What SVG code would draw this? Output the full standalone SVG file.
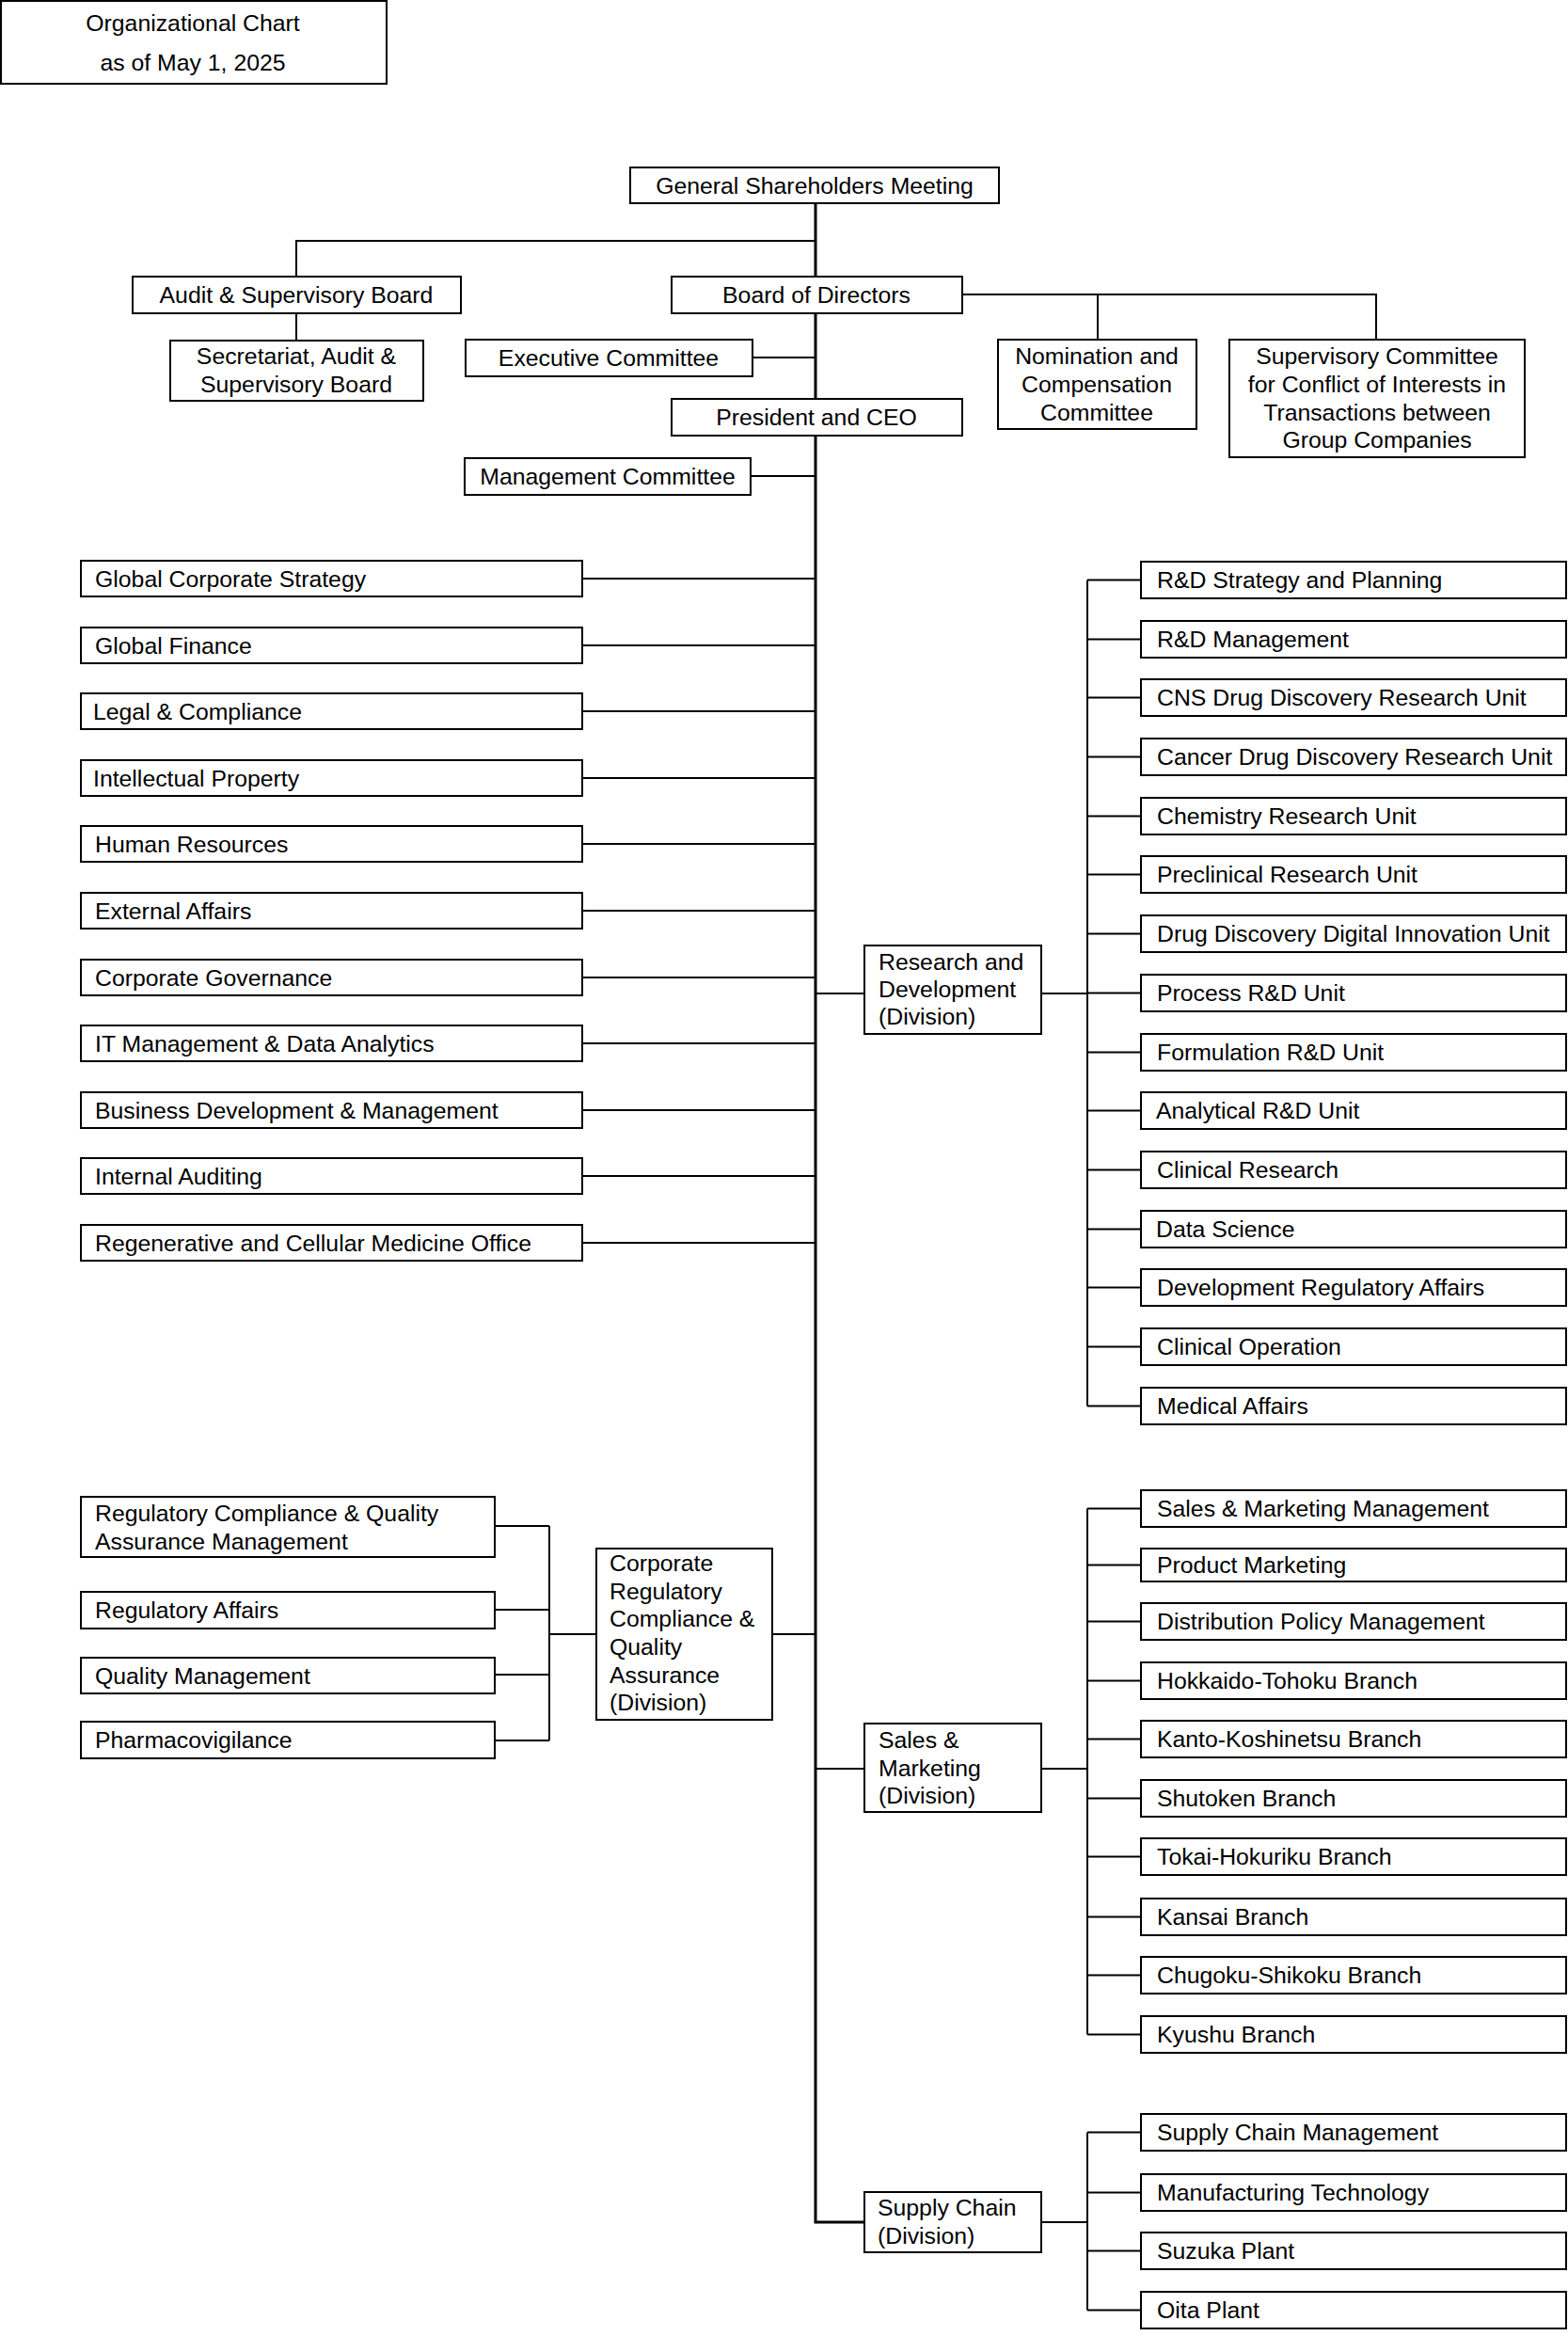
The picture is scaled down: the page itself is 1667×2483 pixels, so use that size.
<svg xmlns="http://www.w3.org/2000/svg" width="1667" height="2483" viewBox="0 0 1667 2483">
<style>
.b{fill:#fff;stroke:#000;stroke-width:2}
.t{font-family:"Liberation Sans",Arial,sans-serif;font-size:24.8px;fill:#000}
.c{text-anchor:middle}
.ln{stroke:#000;stroke-width:2;fill:none}
.mn{stroke:#000;stroke-width:3;fill:none}
</style>
<rect width="1667" height="2483" fill="#fff"/>
<g id="connectors">
<path class="mn" d="M867,216 V2362 H919"/>
<path class="ln" d="M867,256 H315 V294 M315,333 V362"/>
<path class="ln" d="M1023,313 H1463 V361 M1167,313 V361"/>
<path class="ln" d="M800,380 H867 M798,506 H867"/>
<path class="ln" d="M619,615 H867 M619,686 H867 M619,756 H867 M619,827 H867 M619,897 H867 M619,968 H867 M619,1039 H867 M619,1109 H867 M619,1180 H867 M619,1250 H867 M619,1321 H867"/>
<path class="ln" d="M867,1056 H919 M1107,1056 H1156 M1156,616.5 V1494.5"/>
<path class="ln" d="M1156,616.5 H1213 M1156,679.5 H1213 M1156,741.5 H1213 M1156,804.5 H1213 M1156,867.5 H1213 M1156,929.5 H1213 M1156,992.5 H1213 M1156,1055.5 H1213 M1156,1118.5 H1213 M1156,1180.5 H1213 M1156,1243.5 H1213 M1156,1306.5 H1213 M1156,1368.5 H1213 M1156,1431.5 H1213 M1156,1494.5 H1213"/>
<path class="ln" d="M526,1622 H584 M526,1711 H584 M526,1780 H584 M526,1850 H584 M584,1622 V1850 M584,1737 H634 M821,1737 H867"/>
<path class="ln" d="M867,1880 H919 M1107,1880 H1156 M1156,1603.5 V2162.5"/>
<path class="ln" d="M1156,1603.5 H1213 M1156,1663.5 H1213 M1156,1723.5 H1213 M1156,1786.5 H1213 M1156,1848.5 H1213 M1156,1911.5 H1213 M1156,1973.5 H1213 M1156,2037.5 H1213 M1156,2099.5 H1213 M1156,2162.5 H1213"/>
<path class="ln" d="M1107,2362 H1156 M1156,2266.5 V2455.5 M1156,2266.5 H1213 M1156,2330.5 H1213 M1156,2392.5 H1213 M1156,2455.5 H1213"/>
</g>
<g id="title"><rect class="b" x="1" y="1" width="410" height="88"/><text class="t c" x="205" y="33">Organizational Chart</text><text class="t c" x="205" y="75">as of May 1, 2025</text></g>
<g id="gsm"><rect class="b" x="670" y="178" width="392" height="38"/><text class="t c" x="866" y="205.5">General Shareholders Meeting</text></g>
<g id="audit"><rect class="b" x="141" y="294" width="349" height="39"/><text class="t c" x="315" y="322">Audit &amp; Supervisory Board</text></g>
<g id="secretariat"><rect class="b" x="181" y="362" width="269" height="64"/><text class="t c" x="315" y="387">Secretariat, Audit &amp;</text><text class="t c" x="315" y="417">Supervisory Board</text></g>
<g id="board"><rect class="b" x="714" y="294" width="309" height="39"/><text class="t c" x="868" y="322">Board of Directors</text></g>
<g id="exec"><rect class="b" x="495" y="361" width="305" height="39"/><text class="t c" x="647" y="389">Executive Committee</text></g>
<g id="nomination"><rect class="b" x="1061" y="361" width="211" height="95"/><text class="t c" x="1166" y="387">Nomination and</text><text class="t c" x="1166" y="417">Compensation</text><text class="t c" x="1166" y="447">Committee</text></g>
<g id="supervisory"><rect class="b" x="1307" y="361" width="314" height="125"/><text class="t c" x="1464" y="387">Supervisory Committee</text><text class="t c" x="1464" y="417">for Conflict of Interests in</text><text class="t c" x="1464" y="447">Transactions between</text><text class="t c" x="1464" y="476">Group Companies</text></g>
<g id="president"><rect class="b" x="714" y="424" width="309" height="39"/><text class="t c" x="868" y="452">President and CEO</text></g>
<g id="management"><rect class="b" x="494" y="487" width="304" height="39"/><text class="t c" x="646" y="515">Management Committee</text></g>
<g id="staff-gcs"><rect class="b" x="86" y="596" width="533" height="38"/><text class="t" x="101" y="623.5">Global Corporate Strategy</text></g>
<g id="staff-gf"><rect class="b" x="86" y="667" width="533" height="38"/><text class="t" x="101" y="694.5">Global Finance</text></g>
<g id="staff-lc"><rect class="b" x="86" y="737" width="533" height="38"/><text class="t" x="99" y="764.5">Legal &amp; Compliance</text></g>
<g id="staff-ip"><rect class="b" x="86" y="808" width="533" height="38"/><text class="t" x="99" y="835.5">Intellectual Property</text></g>
<g id="staff-hr"><rect class="b" x="86" y="878" width="533" height="38"/><text class="t" x="101" y="905.5">Human Resources</text></g>
<g id="staff-ea"><rect class="b" x="86" y="949" width="533" height="38"/><text class="t" x="101" y="976.5">External Affairs</text></g>
<g id="staff-cg"><rect class="b" x="86" y="1020" width="533" height="38"/><text class="t" x="101" y="1047.5">Corporate Governance</text></g>
<g id="staff-it"><rect class="b" x="86" y="1090" width="533" height="38"/><text class="t" x="101" y="1117.5">IT  Management &amp; Data Analytics</text></g>
<g id="staff-bd"><rect class="b" x="86" y="1161" width="533" height="38"/><text class="t" x="101" y="1188.5">Business Development &amp; Management</text></g>
<g id="staff-ia"><rect class="b" x="86" y="1231" width="533" height="38"/><text class="t" x="101" y="1258.5">Internal Auditing</text></g>
<g id="staff-rcm"><rect class="b" x="86" y="1302" width="533" height="38"/><text class="t" x="101" y="1329.5">Regenerative and Cellular Medicine Office</text></g>
<g id="rd-division"><rect class="b" x="919" y="1005" width="188" height="94"/><text class="t" x="934" y="1031">Research and</text><text class="t" x="934" y="1060">Development</text><text class="t" x="934" y="1089">(Division)</text></g>
<g id="rd-1"><rect class="b" x="1213" y="597" width="452" height="39"/><text class="t" x="1230" y="625">R&amp;D Strategy and Planning</text></g>
<g id="rd-2"><rect class="b" x="1213" y="660" width="452" height="39"/><text class="t" x="1230" y="688">R&amp;D Management</text></g>
<g id="rd-3"><rect class="b" x="1213" y="722" width="452" height="39"/><text class="t" x="1230" y="750">CNS Drug Discovery Research Unit</text></g>
<g id="rd-4"><rect class="b" x="1213" y="785" width="452" height="39"/><text class="t" x="1230" y="813">Cancer Drug Discovery Research Unit</text></g>
<g id="rd-5"><rect class="b" x="1213" y="848" width="452" height="39"/><text class="t" x="1230" y="876">Chemistry Research Unit</text></g>
<g id="rd-6"><rect class="b" x="1213" y="910" width="452" height="39"/><text class="t" x="1230" y="938">Preclinical Research Unit</text></g>
<g id="rd-7"><rect class="b" x="1213" y="973" width="452" height="39"/><text class="t" x="1230" y="1001">Drug Discovery Digital Innovation Unit</text></g>
<g id="rd-8"><rect class="b" x="1213" y="1036" width="452" height="39"/><text class="t" x="1230" y="1064">Process R&amp;D Unit</text></g>
<g id="rd-9"><rect class="b" x="1213" y="1099" width="452" height="39"/><text class="t" x="1230" y="1127">Formulation R&amp;D Unit</text></g>
<g id="rd-10"><rect class="b" x="1213" y="1161" width="452" height="39"/><text class="t" x="1229" y="1189">Analytical R&amp;D Unit</text></g>
<g id="rd-11"><rect class="b" x="1213" y="1224" width="452" height="39"/><text class="t" x="1230" y="1252">Clinical Research</text></g>
<g id="rd-12"><rect class="b" x="1213" y="1287" width="452" height="39"/><text class="t" x="1229" y="1315">Data Science</text></g>
<g id="rd-13"><rect class="b" x="1213" y="1349" width="452" height="39"/><text class="t" x="1230" y="1377">Development Regulatory Affairs</text></g>
<g id="rd-14"><rect class="b" x="1213" y="1412" width="452" height="39"/><text class="t" x="1230" y="1440">Clinical Operation</text></g>
<g id="rd-15"><rect class="b" x="1213" y="1475" width="452" height="39"/><text class="t" x="1230" y="1503">Medical Affairs</text></g>
<g id="crcqa-division"><rect class="b" x="634" y="1646" width="187" height="182"/><text class="t" x="648" y="1670">Corporate</text><text class="t" x="648" y="1700">Regulatory</text><text class="t" x="648" y="1729">Compliance &amp;</text><text class="t" x="648" y="1759">Quality</text><text class="t" x="648" y="1789">Assurance</text><text class="t" x="648" y="1818">(Division)</text></g>
<g id="crcqa-1"><rect class="b" x="86" y="1591" width="440" height="64"/><text class="t" x="101" y="1617">Regulatory Compliance &amp; Quality</text><text class="t" x="101" y="1647">Assurance Management</text></g>
<g id="crcqa-2"><rect class="b" x="86" y="1692" width="440" height="39"/><text class="t" x="101" y="1719.5">Regulatory Affairs</text></g>
<g id="crcqa-3"><rect class="b" x="86" y="1762" width="440" height="38"/><text class="t" x="101" y="1789.5">Quality Management</text></g>
<g id="crcqa-4"><rect class="b" x="86" y="1830" width="440" height="39"/><text class="t" x="101" y="1858">Pharmacovigilance</text></g>
<g id="sm-division"><rect class="b" x="919" y="1832" width="188" height="94"/><text class="t" x="934" y="1858">Sales &amp;</text><text class="t" x="934" y="1888">Marketing</text><text class="t" x="934" y="1917">(Division)</text></g>
<g id="sm-1"><rect class="b" x="1213" y="1584" width="452" height="39"/><text class="t" x="1230" y="1612">Sales &amp; Marketing Management</text></g>
<g id="sm-2"><rect class="b" x="1213" y="1646" width="452" height="35"/><text class="t" x="1230" y="1672">Product Marketing</text></g>
<g id="sm-3"><rect class="b" x="1213" y="1704" width="452" height="39"/><text class="t" x="1230" y="1732">Distribution Policy Management</text></g>
<g id="sm-4"><rect class="b" x="1213" y="1767" width="452" height="39"/><text class="t" x="1230" y="1795">Hokkaido-Tohoku Branch</text></g>
<g id="sm-5"><rect class="b" x="1213" y="1829" width="452" height="39"/><text class="t" x="1230" y="1857">Kanto-Koshinetsu Branch</text></g>
<g id="sm-6"><rect class="b" x="1213" y="1892" width="452" height="39"/><text class="t" x="1230" y="1920">Shutoken Branch</text></g>
<g id="sm-7"><rect class="b" x="1213" y="1954" width="452" height="39"/><text class="t" x="1230" y="1982">Tokai-Hokuriku Branch</text></g>
<g id="sm-8"><rect class="b" x="1213" y="2018" width="452" height="39"/><text class="t" x="1230" y="2046">Kansai Branch</text></g>
<g id="sm-9"><rect class="b" x="1213" y="2080" width="452" height="39"/><text class="t" x="1230" y="2108">Chugoku-Shikoku Branch</text></g>
<g id="sm-10"><rect class="b" x="1213" y="2143" width="452" height="39"/><text class="t" x="1230" y="2171">Kyushu Branch</text></g>
<g id="sc-division"><rect class="b" x="919" y="2330" width="188" height="64"/><text class="t" x="933" y="2355">Supply Chain</text><text class="t" x="933" y="2385">(Division)</text></g>
<g id="sc-1"><rect class="b" x="1213" y="2247" width="452" height="39"/><text class="t" x="1230" y="2275">Supply Chain Management</text></g>
<g id="sc-2"><rect class="b" x="1213" y="2311" width="452" height="39"/><text class="t" x="1230" y="2339">Manufacturing Technology</text></g>
<g id="sc-3"><rect class="b" x="1213" y="2373" width="452" height="39"/><text class="t" x="1230" y="2401">Suzuka Plant</text></g>
<g id="sc-4"><rect class="b" x="1213" y="2436" width="452" height="39"/><text class="t" x="1230" y="2464">Oita Plant</text></g>
</svg>
